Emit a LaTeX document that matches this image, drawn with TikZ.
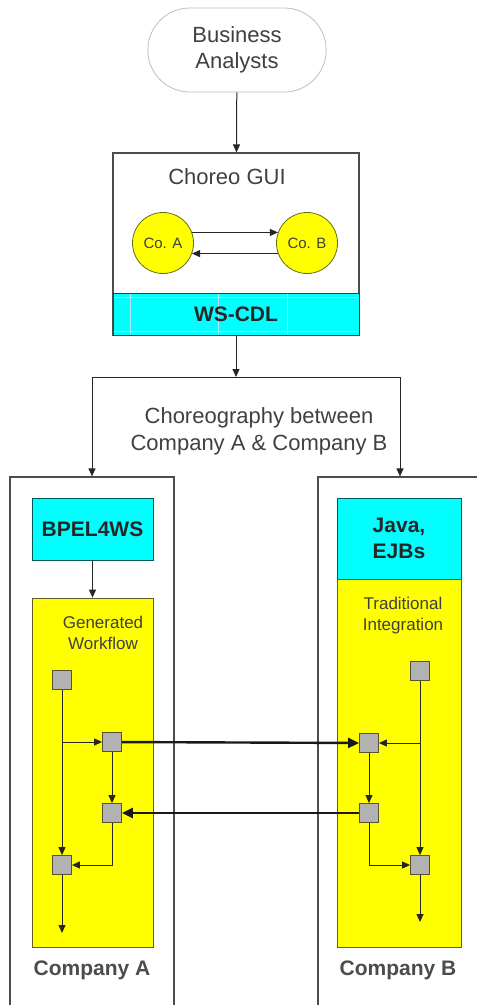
\documentclass[tikz,border=0pt]{standalone}
\usepackage{fontspec}
\setmainfont{Liberation Sans}
\usetikzlibrary{arrows.meta,shapes.misc,positioning}
\definecolor{wscyan}{RGB}{0,255,255}
\definecolor{wsyellow}{RGB}{255,255,0}
\definecolor{wsgray}{RGB}{178,178,178}

\begin{document}
\begin{tikzpicture}[x=1pt, y=-1pt,
  >={Triangle[length=8pt,width=7pt]},
  txt/.style={text=black!75, font=\fontsize{22}{27}\selectfont, align=center},
  small/.style={text=black!75, font=\fontsize{17}{21}\selectfont, align=center},
  hdr/.style={text=black!85, font=\bfseries\fontsize{21}{26}\selectfont, align=center},
  box/.style={draw=black!70, line width=1.2pt, inner sep=0pt},
  cyanbox/.style={fill=wscyan, draw=teal!70!black, line width=0.8pt, inner sep=0pt},
  yelbox/.style={fill=wsyellow, draw=olive!60!black, line width=0.8pt, inner sep=0pt},
  co/.style={circle, fill=wsyellow, draw=olive!70!black, line width=0.8pt, minimum size=61pt, inner sep=0pt, font=\fontsize{15}{18}\selectfont, text=black!75},
  task/.style={rectangle, fill=wsgray, draw=olive!50!black, line width=0.8pt, minimum size=19pt, inner sep=0pt},
  flow/.style={->, line width=1pt, draw=black!85},
  msg/.style={-{Triangle[length=11pt,width=10pt]}, line width=2.4pt, draw=black!90}
]
\useasboundingbox (0,0) rectangle (477,1005);

% top: analysts and the choreography tool
\node[draw=black!25, line width=0.8pt, rounded rectangle, minimum width=185pt, minimum height=84pt, txt, font=\fontsize{22}{26}\selectfont] (ba) at (237,50) {Business\\Analysts};
\node[box, minimum width=246pt, minimum height=182pt] (gui) at (236,244) {};
\node[txt] (guilbl) at (227,177) {Choreo GUI};
\node[co] (coa) at (163,243) {Co. A};
\node[co] (cob) at (307,243) {Co. B};
\draw[flow] (coa.20) -- (cob.160);
\draw[flow] (cob.200) -- (coa.340);
\node[cyanbox, minimum width=246pt, minimum height=42pt] (cdl) at (236,314) {};
\draw[cyan!30!white, line width=0.6pt] (114,297) -- (358,297) (114,331) -- (358,331)
  (130,294) -- (130,334) (218,294) -- (218,334) (287,294) -- (287,334);
\node[hdr] at (cdl) {WS-CDL};
\draw[flow] (ba) -- (gui);

% split towards both companies
\node[box, minimum width=164pt, minimum height=533pt] (ca) at (92,743.5) {};
\node[box, minimum width=160pt, minimum height=533pt] (cb) at (398,743.5) {};
\coordinate (split) at (236,377);
\draw[flow] (cdl) -- (split);
\draw[flow] (split) -| (ca.north);
\draw[flow] (split) -| ([xshift=2pt]cb.north);
\node[txt] (chor) at (259,431) {Choreography between\\Company A \& Company B};

% company A
\node[cyanbox, minimum width=121pt, minimum height=62pt, hdr] (bpel) at (92.5,529) {BPEL4WS};
\node[yelbox, minimum width=121pt, minimum height=349pt] (wfa) at (92.5,772.5) {};
\draw[flow] (bpel) -- (wfa);
\node[small] (wfalbl) at (103,633) {Generated\\Workflow};
\node[task] (s1) at (62,680) {};
\node[task] (s2) at (112,742) {};
\node[task] (s3) at (112,813) {};
\node[task] (s4) at (62,865) {};
\coordinate (enda) at (62,933);
\draw[flow] (s1) -- (s4);
\draw[flow] (s1 |- s2) -- (s2);
\draw[flow] (s2) -- (s3);
\draw[flow] (s3) |- (s4);
\draw[flow] (s4) -- (enda);
\node[hdr, text=black!70] (cal) at (92,970) {Company A};

% company B
\node[cyanbox, minimum width=124pt, minimum height=81pt, hdr] (java) at (399,538.5) {Java,\\EJBs};
\node[yelbox, minimum width=124pt, minimum height=368pt] (wfb) at (399,763) {};
\node[small] (wfblbl) at (403,616) {Traditional\\Integration};
\node[task] (t1) at (420,671) {};
\node[task] (t2) at (369,743) {};
\node[task] (t3) at (369,813) {};
\node[task] (t4) at (420,865) {};
\coordinate (endb) at (420,922);
\draw[flow] (t1) -- (t4);
\draw[flow] (t1 |- t2) -- (t2);
\draw[flow] (t2) -- (t3);
\draw[flow] (t3) |- (t4);
\draw[flow] (t4) -- (endb);
\node[hdr, text=black!70] (cbl) at (398,970) {Company B};

% messages between the two
\draw[msg] (s2) -- (t2);
\draw[msg] (t3) -- (s3);
\end{tikzpicture}
\end{document}
